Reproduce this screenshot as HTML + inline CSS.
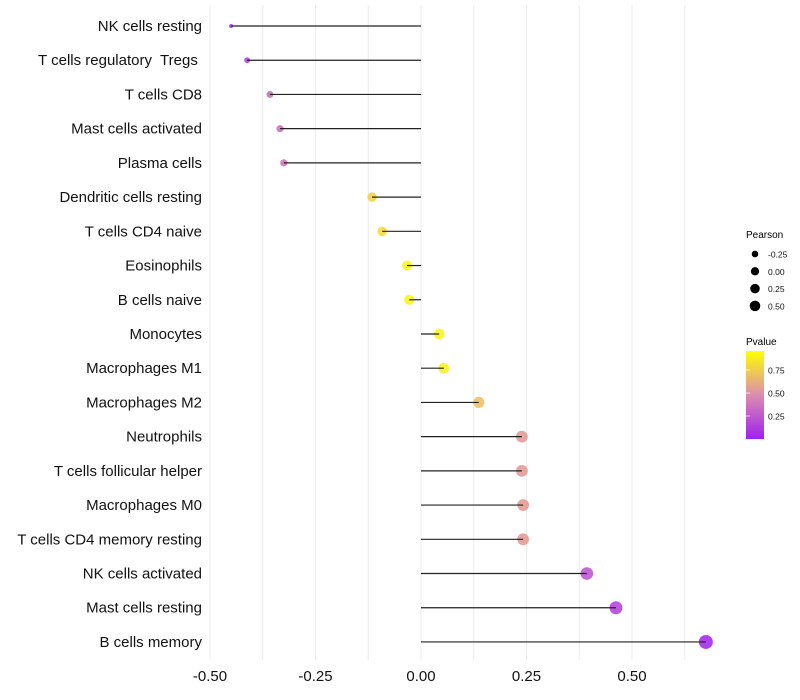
<!DOCTYPE html>
<html><head><meta charset="utf-8"><style>
body{margin:0;background:#fff;}
svg{display:block;font-family:"Liberation Sans",sans-serif;}
</style></head><body>
<svg id="chart" width="800" height="700">
<g id="grid"></g>
<g id="marks"></g>
<g id="labels"></g>
<g id="xticks"></g>
<g id="legend">
  <text x="746" y="238" font-size="10">Pearson</text>
  <defs><linearGradient id="pg" x1="0" y1="1" x2="0" y2="0">
    <stop offset="0" stop-color="#a020f0"/><stop offset="0.5" stop-color="#dc8cb0"/><stop offset="1" stop-color="#ffff00"/></linearGradient></defs>
  <text x="746" y="345" font-size="10">Pvalue</text>
  <rect x="746" y="351" width="18" height="88" fill="url(#pg)"/>
</g>
</svg>
<script>
const categories=["NK cells resting","T cells regulatory  Tregs ","T cells CD8","Mast cells activated","Plasma cells","Dendritic cells resting","T cells CD4 naive","Eosinophils","B cells naive","Monocytes","Macrophages M1","Macrophages M2","Neutrophils","T cells follicular helper","Macrophages M0","T cells CD4 memory resting","NK cells activated","Mast cells resting","B cells memory"];
const pearson=[-0.45,-0.412,-0.358,-0.334,-0.325,-0.116,-0.092,-0.033,-0.028,0.043,0.054,0.137,0.239,0.239,0.242,0.242,0.393,0.462,0.675];
const pvalue=[0.08,0.12,0.33,0.36,0.37,0.8,0.84,0.96,0.96,0.95,0.93,0.72,0.55,0.55,0.55,0.55,0.22,0.13,0.0];
const xTicks=[-0.5,-0.25,0,0.25,0.5];
const xTickLabels=["-0.50","-0.25","0.00","0.25","0.50"];
const sizeLegend=[-0.25,0,0.25,0.5];
const colorLegend=[0.25,0.5,0.75];

const NS="http://www.w3.org/2000/svg";
const x=v=>421+v*422;
const y=i=>26+i*34.22;
const r=v=>2+5*Math.sqrt(Math.max((v+0.45)/1.125,0));
function lerp(a,b,t){return a.map((c,k)=>Math.round(c+(b[k]-c)*t));}
function col(p){const s=[[160,32,240],[222,138,160],[255,255,0]];
 const c=p<0.5?lerp(s[0],s[1],p/0.5):lerp(s[1],s[2],(p-0.5)/0.5);return `rgb(${c})`;}
function mk(tag,at,parent){const e=document.createElementNS(NS,tag);for(const k in at)e.setAttribute(k,at[k]);parent.appendChild(e);return e;}
const G=document.getElementById('grid'),M=document.getElementById('marks'),L=document.getElementById('labels'),X=document.getElementById('xticks'),LG=document.getElementById('legend');
for(let v=-0.5;v<=0.7;v+=0.125){const l=mk('line',{x1:x(v),x2:x(v),y1:5,y2:660,stroke:'#ebebeb','stroke-width':1},G);

}
categories.forEach((c,i)=>{
 const cc=mk('circle',{cx:x(pearson[i]),cy:y(i),r:r(pearson[i]),fill:col(pvalue[i]),'fill-opacity':0.85},M);
 
 
 const s=mk('line',{x1:x(0),x2:x(pearson[i]),y1:y(i),y2:y(i),stroke:'#222','stroke-width':1.2},M);
 
 
 const t=mk('text',{x:202,y:y(i)+5,'text-anchor':'end','font-size':15,fill:'#111','xml:space':'preserve'},L);t.style.whiteSpace='pre';t.textContent=c;
 
 
});
xTicks.forEach((v,i)=>{const t=mk('text',{x:x(v),y:681,'text-anchor':'middle','font-size':15,fill:'#111'},X);t.textContent=xTickLabels[i];
 
 });
sizeLegend.forEach((v,i)=>{const cy=254+i*17.3;
 const c=mk('circle',{cx:755,cy:cy,r:r(v)*0.8,fill:'#000'},LG);
 
 
 const t=mk('text',{x:768,y:cy+3.5,'font-size':8.5,fill:'#111'},LG);t.textContent=v.toFixed(2);
 
 });
colorLegend.forEach(v=>{const cy=439-v*92;
 const l=mk('line',{x1:746,x2:750,y1:cy,y2:cy,stroke:'#fff','stroke-width':0.7},LG);
 
 
 const t=mk('text',{x:768,y:cy+3.5,'font-size':8.5,fill:'#111'},LG);t.textContent=v.toFixed(2);
 
 });
</script>
</body></html>
